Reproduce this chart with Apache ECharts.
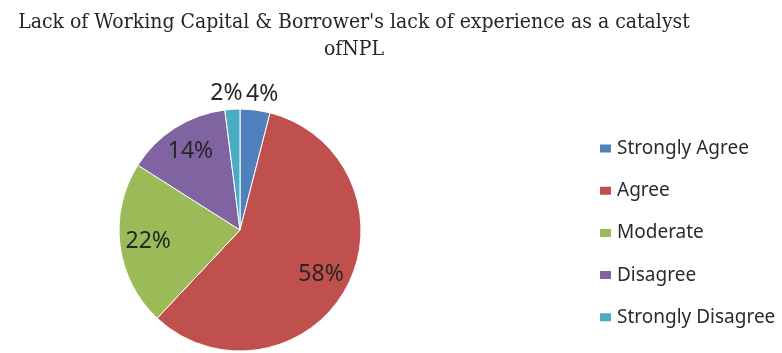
<!DOCTYPE html>
<html>
<head>
<meta charset="utf-8">
<script src="https://cdn.jsdelivr.net/npm/echarts@6/dist/echarts.min.js"></script>
<style>
  html, body { margin: 0; padding: 0; background: #fff; }
  #chart { width: 782px; height: 353px; }
</style>
</head>
<body>
<div id="chart"></div>
<script>
// Survey responses, percent of respondents
const categories = ['Strongly Agree', 'Agree', 'Moderate', 'Disagree', 'Strongly Disagree'];
const shares = [4, 58, 22, 14, 2];
const palette = ['#4F81BD', '#C0504D', '#9BBB59', '#8064A2', '#4BACC6'];

const chart = echarts.init(document.getElementById('chart'));

const center = [240, 230];
const outerR = 121;
const smallCut = 5; // slices below this share get their label outside the rim

const sliceData = categories.map((name, i) => ({
  name: name,
  value: shares[i],
  itemStyle: { color: palette[i] }
}));

// Transparent ring that only carries the percentage text:
// inside labels for the large slices, outside labels for the thin ones.
const labelData = categories.map((name, i) => ({
  name: name,
  value: shares[i],
  itemStyle: { color: 'rgba(0,0,0,0)' },
  label: { position: shares[i] < smallCut ? 'outside' : 'inside' }
}));

chart.setOption({
  animation: false,
  backgroundColor: '#ffffff',
  title: {
    text: "Lack of Working Capital & Borrower's lack of experience as a catalyst\nofNPL",
    left: 349,
    top: 4,
    textAlign: 'center',
    textStyle: {
      fontFamily: 'DejaVu Serif Condensed',
      fontWeight: 'normal',
      fontSize: 21,
      lineHeight: 27,
      color: '#262626'
    }
  },
  legend: {
    orient: 'vertical',
    left: 598,
    top: 139,
    padding: 0,
    itemWidth: 13,
    itemHeight: 10,
    itemGap: 23.2,
    icon: 'rect',
    data: categories,
    textStyle: {
      fontFamily: 'Noto Sans',
      fontSize: 19,
      color: '#2b2b2b'
    }
  },
  series: [
    {
      type: 'pie',
      center: center,
      radius: [0, outerR],
      startAngle: 90,
      clockwise: true,
      silent: true,
      label: { show: false },
      labelLine: { show: false },
      itemStyle: { borderColor: '#ffffff', borderWidth: 1 },
      data: sliceData
    },
    {
      type: 'pie',
      center: center,
      radius: [58, outerR],
      startAngle: 90,
      clockwise: true,
      silent: true,
      legendHoverLink: false,
      avoidLabelOverlap: false,
      label: {
        show: true,
        formatter: '{c}%',
        fontFamily: 'Noto Sans',
        fontSize: 23,
        color: '#262626'
      },
      labelLine: { show: false, length: 16, length2: 0 },
      // outside labels sit centred over their anchor point
      labelLayout: (p) => (p.dataIndex !== undefined && shares[p.dataIndex] < smallCut ? { align: 'center' } : {}),
      data: labelData
    }
  ]
});
</script>
</body>
</html>
